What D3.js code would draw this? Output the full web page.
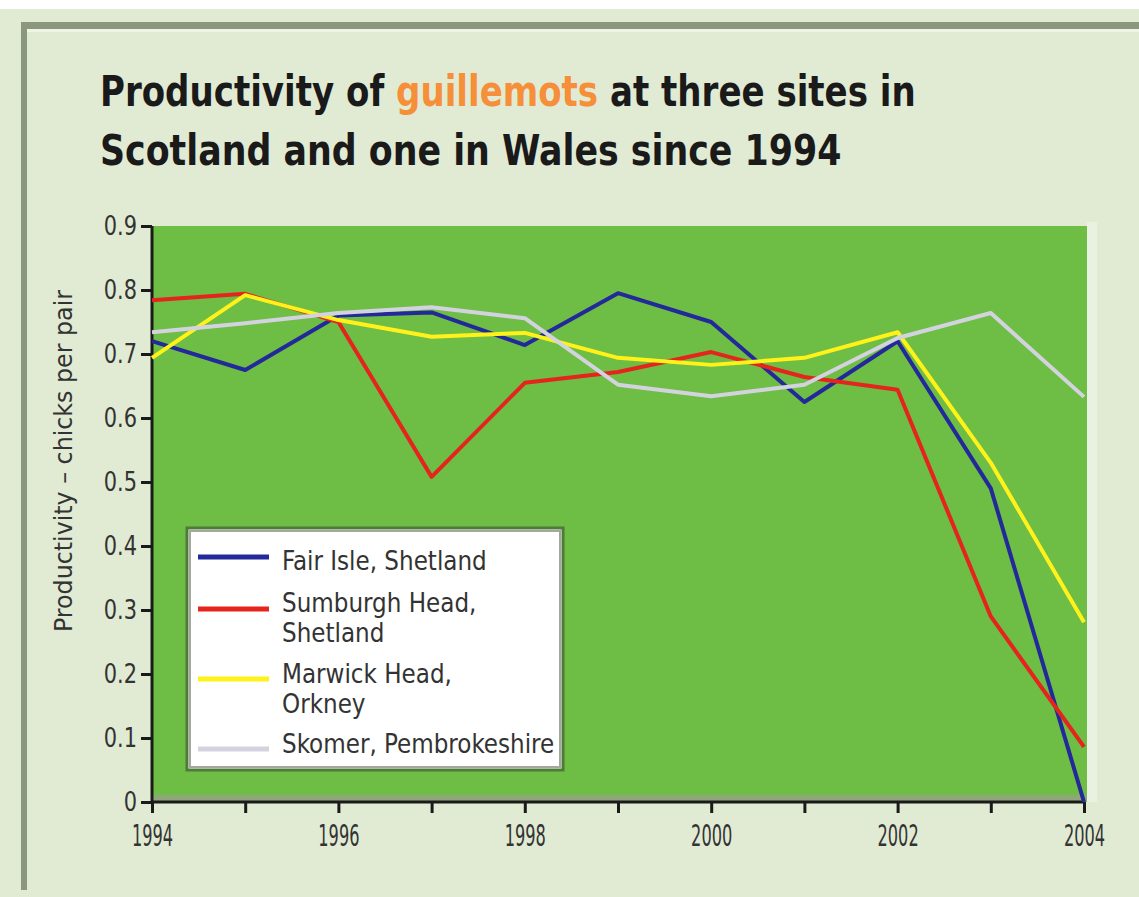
<!DOCTYPE html>
<html lang="en">
<head>
    <meta charset="UTF-8">
    <title>guillemots</title>
    <script src="https://cdn.jsdelivr.net/npm/d3@7"></script>
    <style>
        body{
            margin: 0;
            background: #ffffff;
        }
        svg text{
            font-family: "Liberation Sans Narrow", "DejaVu Sans Condensed", sans-serif;
        }
    </style>
</head>
<body>
</body>
<script type="text/javascript">

    // productivity (chicks per pair)
    let years = [1994, 1995, 1996, 1997, 1998, 1999, 2000, 2001, 2002, 2003, 2004];
    let fairIsle = [0.72, 0.675, 0.76, 0.765, 0.714, 0.795, 0.75, 0.625, 0.72, 0.49, 0];
    let sumburgh = [0.784, 0.794, 0.75, 0.508, 0.655, 0.672, 0.703, 0.664, 0.644, 0.29, 0.086];
    let marwick  = [0.694, 0.792, 0.753, 0.727, 0.733, 0.694, 0.683, 0.694, 0.734, 0.53, 0.281];
    let skomer   = [0.734, 0.748, 0.764, 0.773, 0.756, 0.652, 0.634, 0.652, 0.725, 0.764, 0.633];

    let legendLines = [["Fair Isle, Shetland"], ["Sumburgh Head,", "Shetland"], ["Marwick Head,", "Orkney"], ["Skomer, Pembrokeshire"]];
    let seriesValues = [fairIsle, sumburgh, marwick, skomer];
    let colors = ["#23289a", "#e5241e", "#fff21a", "#d3d3df"];

    let yTicks = [0, 0.1, 0.2, 0.3, 0.4, 0.5, 0.6, 0.7, 0.8, 0.9];
    let xLabelYears = [1994, 1996, 1998, 2000, 2002, 2004];

    let width = 1139;
    let height = 897;
    let fontStack = "'Liberation Sans Narrow', 'DejaVu Sans Condensed', sans-serif";

    // squeeze text horizontally (the original uses a condensed face)
    let condense = (sel, k) => {
        sel.attr("lengthAdjust", "spacingAndGlyphs")
            .attr("textLength", function(){ return this.getComputedTextLength() * k; });
    };

    let svg = d3.select("body")
        .append("svg")
        .attr("width", width)
        .attr("height", height);

    // page background + frame
    svg.append("rect")
        .attr("x", 0).attr("y", 9)
        .attr("width", width).attr("height", height - 9)
        .attr("fill", "#e1ebd4");
    svg.append("rect")
        .attr("x", 21).attr("y", 22)
        .attr("width", width).attr("height", 7)
        .attr("fill", "#8a977c");
    svg.append("rect")
        .attr("x", 21).attr("y", 29)
        .attr("width", width).attr("height", 3)
        .attr("fill", "#eef5e6");
    svg.append("rect")
        .attr("x", 21).attr("y", 22)
        .attr("width", 6).attr("height", 868)
        .attr("fill", "#8a977c");

    // title
    let title1 = svg.append("text")
        .attr("x", 100)
        .attr("y", 106)
        .attr("font-size", 43)
        .attr("font-weight", "bold")
        .attr("fill", "#1a1a1a");
    title1.append("tspan").text("Productivity of ");
    title1.append("tspan").attr("fill", "#f58f3a").text("guillemots");
    title1.append("tspan").text(" at three sites in");
    title1.attr("transform", "translate(100,0) scale(0.88,1) translate(-100,0)");
    svg.append("text")
        .attr("x", 100)
        .attr("y", 165)
        .attr("font-size", 43)
        .attr("font-weight", "bold")
        .attr("fill", "#1a1a1a")
        .attr("transform", "translate(100,0) scale(0.9,1) translate(-100,0)")
        .text("Scotland and one in Wales since 1994");

    let x = d3.scaleLinear()
        .domain([1994, 2004])
        .range([152, 1084]);
    let y = d3.scaleLinear()
        .domain([0, 0.9])
        .range([802, 226]);

    // plot background
    svg.append("rect")
        .attr("x", x(2004) + 3)
        .attr("y", y(0.9) - 4)
        .attr("width", 10)
        .attr("height", y(0) - y(0.9) + 4)
        .attr("fill", "#e9f1e1");
    svg.append("rect")
        .attr("x", x(1994))
        .attr("y", y(0.9))
        .attr("width", x(2004) - x(1994) + 3)
        .attr("height", y(0) - y(0.9))
        .attr("fill", "#6ebd45");
    svg.append("rect")
        .attr("x", x(1994))
        .attr("y", y(0) - 7)
        .attr("width", x(2004) - x(1994) + 3)
        .attr("height", 6)
        .attr("fill", "#8ea67a");

    // axes
    let yAxis = d3.axisLeft(y)
        .tickValues(yTicks)
        .tickSize(11)
        .tickPadding(4)
        .tickFormat(d => d === 0 ? "0" : d3.format(".1f")(d));
    let yAxisGroup = svg.append("g")
        .attr("transform", `translate(${x(1994)},0)`);
    yAxis(yAxisGroup);

    let xAxis = d3.axisBottom(x)
        .tickValues(years)
        .tickSize(11)
        .tickPadding(12)
        .tickFormat(d => xLabelYears.includes(d) ? String(d) : "");
    let xAxisGroup = svg.append("g")
        .attr("transform", `translate(0,${y(0)})`);
    xAxis(xAxisGroup);

    [yAxisGroup, xAxisGroup].forEach(g => {
        g.select(".domain").attr("stroke", "#1a1a1a").attr("stroke-width", 3);
        g.selectAll(".tick line").attr("stroke", "#1a1a1a").attr("stroke-width", 3);
        g.selectAll(".tick text")
            .attr("fill", "#333")
            .style("font-family", fontStack);
    });
    yAxisGroup.selectAll(".tick text").attr("font-size", 27);
    xAxisGroup.selectAll(".tick text").attr("font-size", 30);
    condense(yAxisGroup.selectAll(".tick text"), 0.86);
    condense(xAxisGroup.selectAll(".tick text").filter(d => xLabelYears.includes(d)), 0.6);
    yAxisGroup.select(".domain").attr("d", `M0,${y(0.9)}V${y(0)}`);
    xAxisGroup.select(".domain").attr("d", `M${x(1994)},0H${x(2004)}`);

    svg.append("text")
        .attr("transform", `translate(72,461) rotate(-90)`)
        .attr("text-anchor", "middle")
        .attr("font-size", 24)
        .attr("fill", "#333")
        .attr("textLength", 342)
        .attr("lengthAdjust", "spacingAndGlyphs")
        .text("Productivity \u2013 chicks per pair");

    // legend box
    let legend = svg.append("g");
    legend.append("rect")
        .attr("x", 187).attr("y", 528)
        .attr("width", 376).attr("height", 242)
        .attr("fill", "#ffffff")
        .attr("stroke", "#4e7a3a")
        .attr("stroke-width", 3);
    legend.append("rect")
        .attr("x", 190).attr("y", 531)
        .attr("width", 370).attr("height", 236)
        .attr("fill", "none")
        .attr("stroke", "#a4a79c")
        .attr("stroke-width", 2);
    let rowY = [557, 609, 679, 749];
    let textY = [570, 612, 683, 753];
    legendLines.forEach((lines, i) => {
        legend.append("line")
            .attr("x1", 198).attr("x2", 269)
            .attr("y1", rowY[i]).attr("y2", rowY[i])
            .attr("stroke", colors[i])
            .attr("stroke-width", 5);
        lines.forEach((s, j) => {
            let t = legend.append("text")
                .attr("x", 282)
                .attr("y", textY[i] + j * 30)
                .attr("font-size", 27)
                .attr("fill", "#333")
                .text(s);
            condense(t, 0.95);
        });
    });

    // lines
    let line = d3.line()
        .x((d, i) => x(years[i]))
        .y(d => y(d));
    seriesValues.forEach((vals, i) => {
        svg.append("path")
            .datum(vals)
            .attr("fill", "none")
            .attr("stroke", colors[i])
            .attr("stroke-width", 4)
            .attr("stroke-linejoin", "round")
            .attr("d", line);
    });

    // legend sits on top of the lines
    legend.raise();

</script>
</html>
